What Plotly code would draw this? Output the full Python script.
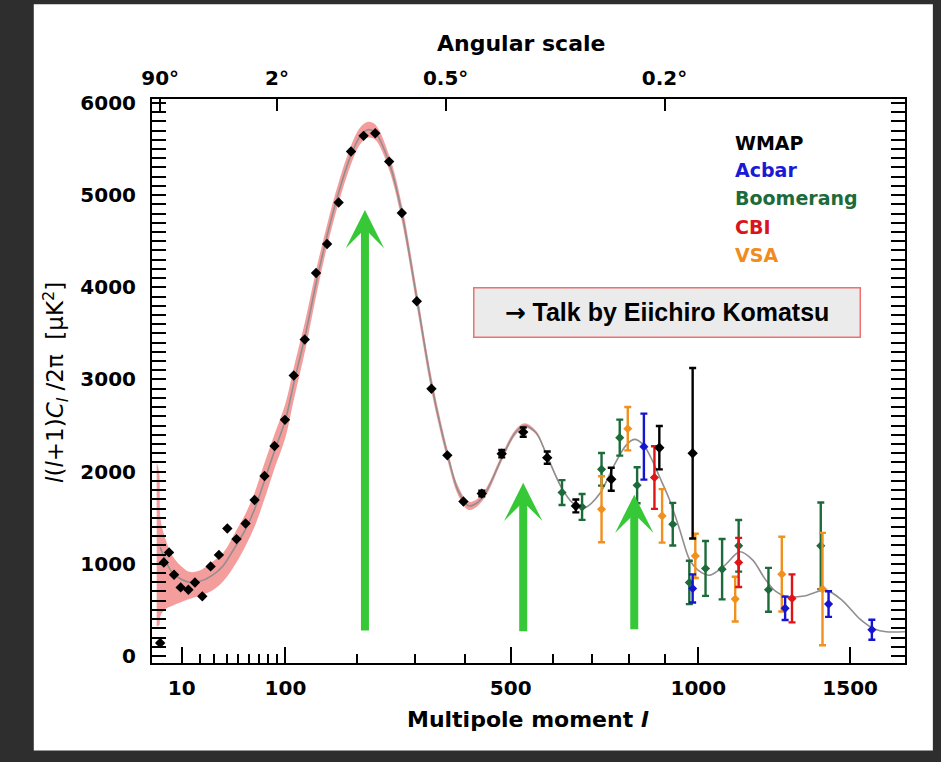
import numpy as np
import plotly.graph_objects as go

# ---------------- data ----------------
P = 0.6  # the multipole axis is linear in l**0.6

wmap_l = [2, 3, 4.7, 6.6, 9.5, 13.4, 17.1, 21.7, 27.4, 33.6, 40.4, 48.4, 56.8, 65.7, 76.1,
          87.2, 99.4, 110.2, 124.3, 139.5, 155, 171.9, 190.8, 210.8, 230, 253.9, 276.4, 304,
          332, 363.5, 396.5, 435.5, 479.6, 529, 586.5, 658, 751, 885, 983]
wmap_D = [141, 1015, 1124, 881, 744, 718, 798, 647, 972, 1097, 1383, 1268, 1437, 1693, 1953,
          2278, 2562, 3043, 3433, 4156, 4470, 4920, 5473, 5643, 5672, 5364, 4806, 3848,
          2899, 2177, 1676, 1762, 2195, 2429, 2152, 1628, 1917, 2260, 2199]
wmap_err = [0] * 31 + [30, 40, 50, 67, 70, 125, 235, 925]

boom_l = [623, 674, 725, 774, 822, 924, 973, 1022, 1073, 1125, 1221, 1397]
boom_D = [1773, 1617, 2025, 2369, 1852, 1430, 798, 950, 942, 1195, 718, 1195]
boom_err = [135, 140, 177, 195, 195, 231, 235, 298, 328, 280, 238, 470]

acbar_l = [841, 983, 1276, 1424, 1578]
acbar_D = [2271, 733, 517, 563, 285]
acbar_err = [358, 153, 127, 139, 108]

cbi_l = [871, 1125, 1299]
cbi_D = [1936, 1015, 625]
cbi_err = [340, 267, 260]

vsa_l = [725, 796, 893, 991, 1114, 1265, 1403]
vsa_D = [1592, 2466, 1520, 1086, 617, 888, 726]
vsa_err = [358, 235, 290, 240, 243, 406, 610]

th_l = [2, 3, 4, 6, 10, 14, 20, 28, 37, 48, 57, 66, 76, 87, 100, 110, 125, 140, 155, 172,
        190, 205, 218, 230, 254, 276, 304, 332, 363, 385, 407, 425, 445, 480, 510, 533, 560,
        586, 620, 650, 681, 720, 760, 790, 814, 840, 865, 885, 914, 944, 973, 1000, 1036,
        1080, 1128, 1170, 1210, 1245, 1278, 1340, 1415, 1470, 1535, 1590, 1630, 1700]
th_D = [1180, 1080, 1000, 900, 830, 800, 810, 870, 980, 1200, 1380, 1600, 1900, 2220, 2560,
        2950, 3480, 4060, 4560, 5030, 5420, 5640, 5710, 5680, 5350, 4820, 3880, 2950, 2200,
        1800, 1630, 1660, 1780, 2150, 2420, 2500, 2420, 2170, 1840, 1660, 1610, 1760, 2080,
        2280, 2350, 2290, 2120, 1950, 1700, 1376, 1050, 930, 877, 980, 1130, 1040, 834, 700,
        647, 650, 715, 610, 401, 290, 263, 263]

band_l = [1.2, 1.75, 2.1, 3.5, 6, 10.5, 14, 19.5, 28, 37, 48, 57, 66, 76, 87, 100, 110, 125,
          140, 155, 172, 190, 205, 218, 230, 254, 276, 304, 332, 363, 385, 407, 425, 445, 480,
          510, 533, 560, 586, 620]
band_lo = [320, 330, 440, 510, 545, 590, 617, 650, 704, 810, 1010, 1200, 1410, 1700, 2030,
           2370, 2770, 3320, 3920, 4440, 4920, 5320, 5550, 5625, 5600, 5270, 4730, 3790, 2870,
           2140, 1750, 1585, 1620, 1740, 2115, 2390, 2475, 2400, 2155, 1830]
band_hi = [2100, 2000, 1480, 1270, 1086, 960, 913, 924, 1015, 1120, 1360, 1550, 1780, 2090,
           2400, 2740, 3120, 3640, 4200, 4680, 5140, 5520, 5730, 5795, 5765, 5430, 4910, 3970,
           3030, 2260, 1850, 1675, 1700, 1820, 2185, 2450, 2525, 2440, 2185, 1850]

x_ticks = [10, 100, 500, 1000, 1500]
x_minor = [20, 30, 40, 50, 60, 70, 80, 90, 200, 300, 400, 600, 700, 800, 900]
theta_ticks = [90, 2, 0.5, 0.2]          # degrees, l = 180/theta
y_ticks = [0, 1000, 2000, 3000, 4000, 5000, 6000]

arrow_l = [213, 529, 814]
arrow_tip = [4840, 1880, 1750]
arrow_len_px = [422, 150, 136]

legend_names = ["WMAP", "Acbar", "Boomerang", "CBI", "VSA"]
legend_cols = ["#000000", "#1a1ad6", "#1d6b3a", "#d9141e", "#f08c1e"]


def tx(l):
    return np.asarray(l, dtype=float) ** P


C_BOOM, C_ACB, C_CBI, C_VSA = "#1d6b3a", "#1515d0", "#e01414", "#f0901e"
FONT = "DejaVu Sans"

fig = go.Figure()

# cosmic-variance band
fig.add_trace(go.Scatter(x=tx(band_l), y=band_lo, mode="lines", line=dict(width=0, shape="spline"),
                         hoverinfo="skip", showlegend=False))
fig.add_trace(go.Scatter(x=tx(band_l), y=band_hi, mode="lines", line=dict(width=0, shape="spline"),
                         fill="tonexty", fillcolor="rgba(242,140,140,0.85)",
                         hoverinfo="skip", showlegend=False))
# theory curve
fig.add_trace(go.Scatter(x=tx(th_l), y=th_D, mode="lines",
                         line=dict(color="#8f8f8f", width=1.6, shape="spline", smoothing=0.8),
                         showlegend=False))


def data_trace(l, D, err, col, size):
    return go.Scatter(x=tx(l), y=D, mode="markers",
                      marker=dict(symbol="diamond", size=size, color=col),
                      error_y=dict(type="data", array=err, color=col, thickness=2.4, width=3.5),
                      showlegend=False)


fig.add_trace(data_trace(boom_l, boom_D, boom_err, C_BOOM, 7))
fig.add_trace(data_trace(vsa_l, vsa_D, vsa_err, C_VSA, 7))
fig.add_trace(data_trace(cbi_l, cbi_D, cbi_err, C_CBI, 7))
fig.add_trace(data_trace(acbar_l, acbar_D, acbar_err, C_ACB, 7))
fig.add_trace(data_trace(wmap_l, wmap_D, wmap_err, "#000000", 8))

# dummy trace so the top (angular-scale) axis is drawn
fig.add_trace(go.Scatter(x=tx([180.0 / t for t in theta_ticks]), y=[None] * len(theta_ticks),
                         xaxis="x2", mode="markers", showlegend=False, hoverinfo="skip"))

XR = [0.58, 86.75]
axis_common = dict(showgrid=False, zeroline=False, showline=True, linecolor="black", linewidth=2,
                   ticks="inside", tickcolor="black", tickwidth=2,
                   tickfont=dict(family=FONT, size=20, color="black", weight="bold"))

fig.update_layout(
    width=941, height=762,
    margin=dict(l=152, r=36, t=99, b=99),
    paper_bgcolor="#2e2e2e", plot_bgcolor="white",
    xaxis=dict(range=XR, tickmode="array", tickvals=tx(x_ticks), ticktext=[str(v) for v in x_ticks],
               ticklen=16, ticklabelstandoff=6,
               minor=dict(tickmode="array", tickvals=tx(x_minor), ticks="inside", ticklen=9,
                          tickwidth=2, tickcolor="black"),
               **axis_common),
    xaxis2=dict(range=XR, overlaying="x", side="top", anchor="y", tickmode="array",
                tickvals=tx([180.0 / t for t in theta_ticks]),
                ticktext=[f"{t:g}°" for t in theta_ticks], ticklen=12, ticklabelstandoff=4,
                **axis_common),
    yaxis=dict(range=[-76, 6043], tickmode="array", tickvals=y_ticks, ticklen=14, mirror="allticks",
               ticklabelstandoff=10,
               minor=dict(dtick=100, ticks="inside", ticklen=7, tickwidth=1.5, tickcolor="black"),
               **axis_common),
    shapes=[dict(type="rect", xref="paper", yref="paper", x0=-0.157, x1=1.037, y0=-0.155, y1=1.168,
                 fillcolor="white", line=dict(width=0), layer="below")],
)

ann = []
# axis titles
ann.append(dict(text="Angular scale", xref="paper", yref="paper", x=0.49, y=1.099, showarrow=False,
                font=dict(family=FONT, size=22, color="black", weight="bold"), xanchor="center", yanchor="middle"))
ann.append(dict(text="Multipole moment <i>l</i>", xref="paper", yref="paper", x=0.499, y=-0.101,
                showarrow=False, font=dict(family=FONT, size=22, color="black", weight="bold"),
                xanchor="center", yanchor="middle"))
ann.append(dict(text="<i>l</i>(<i>l</i>+1)<i>C</i><sub><i>l</i></sub> /2π  [μK<sup>2</sup>]",
                xref="paper", yref="paper", x=-0.129, y=0.498, textangle=-90, showarrow=False,
                font=dict(family=FONT, size=23, color="black"), xanchor="center", yanchor="middle"))
# legend text
leg_y = [143, 170, 198, 227, 255]
for name, col, py in zip(legend_names, legend_cols, leg_y):
    ann.append(dict(text=name, xref="paper", yref="paper", x=(733 - 152) / 753, y=(663 - py) / 564,
                    xanchor="left", yanchor="middle", showarrow=False,
                    font=dict(family=FONT, size=19, color=col, weight="bold")))
# talk box
ann.append(dict(text="<span style=\"font-family:'DejaVu Sans';font-weight:bold\">→</span> Talk by Eiichiro Komatsu",
                xref="paper", yref="paper",
                x=(666.5 - 152) / 753, y=(663 - 312) / 564, xanchor="center", yanchor="middle",
                showarrow=False, width=385, height=48, bgcolor="#ebebeb", bordercolor="#f07070",
                borderwidth=1.5, borderpad=0,
                font=dict(family="Liberation Sans", size=25, color="black", weight="bold")))
# green arrows
for l, tip, ln in zip(arrow_l, arrow_tip, arrow_len_px):
    ann.append(dict(x=float(tx(l)), y=tip, xref="x", yref="y", ax=0, ay=ln, axref="pixel", ayref="pixel",
                    showarrow=True, arrowhead=3, arrowsize=0.8, arrowwidth=8, arrowcolor="#37c837",
                    text=""))
fig.update_layout(annotations=ann)

fig.write_html("out.html", config={"displayModeBar": False},
               post_script="document.body.style.margin='0px';")
